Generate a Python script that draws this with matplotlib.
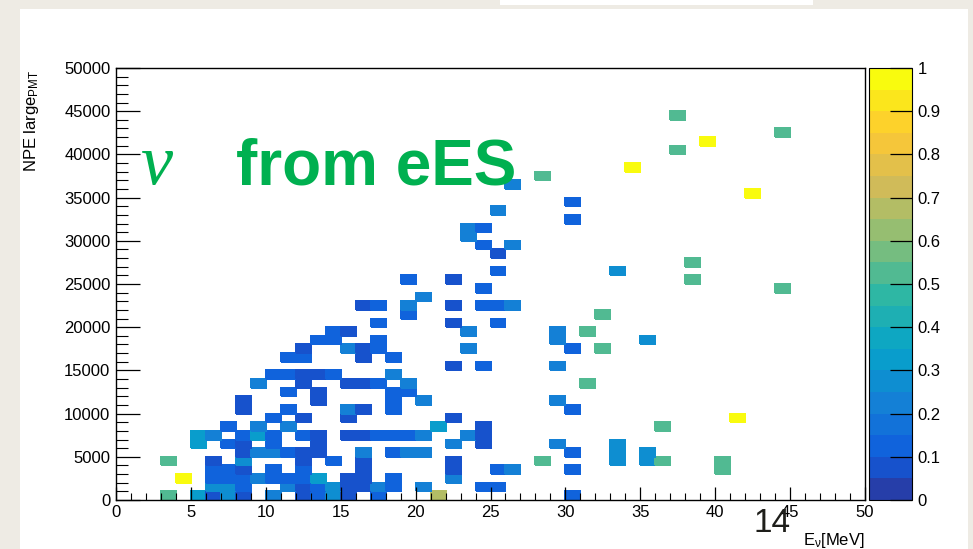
import numpy as np
import matplotlib
matplotlib.use('Agg')
import matplotlib.pyplot as plt
from matplotlib.colors import ListedColormap, BoundaryNorm
from matplotlib.patches import Rectangle
from matplotlib.ticker import MultipleLocator, FuncFormatter
from matplotlib.cm import ScalarMappable

plt.rcParams['font.family'] = ['Liberation Sans', 'DejaVu Sans']
plt.rcParams['mathtext.fontset'] = 'custom'
plt.rcParams['mathtext.rm'] = 'Liberation Sans'
plt.rcParams['mathtext.default'] = 'regular'

# ---------------- data (bin low edges: E in MeV, NPE in units of 1000) ----------------
cell_E = [
    3, 5, 6, 7, 8, 10, 12, 13, 14, 15, 17, 21, 30,            # NPE bin 0
    6, 7, 8, 11, 12, 13, 14, 15, 16, 17, 18, 20, 24, 25,      # 1
    4, 6, 7, 8, 9, 10, 11, 12, 13, 15, 16, 18, 22,            # 2
    6, 7, 8, 10, 12, 16, 22, 25, 26, 30, 40,                  # 3
    3, 6, 8, 12, 14, 16, 22, 28, 33, 35, 36, 40,              # 4
    8, 9, 10, 11, 12, 13, 16, 18, 19, 20, 30, 33, 35,         # 5
    5, 7, 8, 10, 13, 22, 24, 29, 33,                          # 6
    5, 6, 8, 9, 10, 12, 13, 15, 16, 17, 18, 19, 20, 23, 24,   # 7
    7, 9, 11, 21, 24, 36,                                     # 8
    10, 12, 15, 22, 41,                                       # 9
    8, 11, 15, 16, 18, 30,                                    # 10
    8, 13, 18, 20, 29,                                        # 11
    11, 13, 18, 19,                                           # 12
    9, 12, 15, 16, 17, 19, 31,                                # 13
    10, 11, 12, 13, 14, 18,                                   # 14
    22, 24, 29,                                               # 15
    11, 12, 16, 18,                                           # 16
    12, 15, 16, 17, 23, 30, 32,                               # 17
    13, 14, 17, 29, 35,                                       # 18
    14, 15, 23, 29, 31,                                       # 19
    17, 22, 25,                                               # 20
    19, 32,                                                   # 21
    16, 17, 19, 22, 24, 25, 26,                               # 22
    20,                                                       # 23
    24, 44,                                                   # 24
    19, 22, 38,                                               # 25
    25, 33,                                                   # 26
    38,                                                       # 27
    25,                                                       # 28
    24, 26,                                                   # 29
    23,                                                       # 30
    23, 24,                                                   # 31
    30,                                                       # 32
    25,                                                       # 33
    30,                                                       # 34
    42,                                                       # 35
    26,                                                       # 36
    28,                                                       # 37
    34,                                                       # 38
    37,                                                       # 40
    39,                                                       # 41
    44,                                                       # 42
    37,                                                       # 44
]
cell_NPE_k = [
    0, 0, 0, 0, 0, 0, 0, 0, 0, 0, 0, 0, 0,
    1, 1, 1, 1, 1, 1, 1, 1, 1, 1, 1, 1, 1, 1,
    2, 2, 2, 2, 2, 2, 2, 2, 2, 2, 2, 2, 2,
    3, 3, 3, 3, 3, 3, 3, 3, 3, 3, 3,
    4, 4, 4, 4, 4, 4, 4, 4, 4, 4, 4, 4,
    5, 5, 5, 5, 5, 5, 5, 5, 5, 5, 5, 5, 5,
    6, 6, 6, 6, 6, 6, 6, 6, 6,
    7, 7, 7, 7, 7, 7, 7, 7, 7, 7, 7, 7, 7, 7, 7,
    8, 8, 8, 8, 8, 8,
    9, 9, 9, 9, 9,
    10, 10, 10, 10, 10, 10,
    11, 11, 11, 11, 11,
    12, 12, 12, 12,
    13, 13, 13, 13, 13, 13, 13,
    14, 14, 14, 14, 14, 14,
    15, 15, 15,
    16, 16, 16, 16,
    17, 17, 17, 17, 17, 17, 17,
    18, 18, 18, 18, 18,
    19, 19, 19, 19, 19,
    20, 20, 20,
    21, 21,
    22, 22, 22, 22, 22, 22, 22,
    23,
    24, 24,
    25, 25, 25,
    26, 26,
    27,
    28,
    29, 29,
    30,
    31, 31,
    32,
    33,
    34,
    35,
    36,
    37,
    38,
    40,
    41,
    42,
    44,
]
cell_code = list(
    "GQDCDLDBCDBOB"
    "CCBLDBCDDLBLBB"
    "YBBBLBBBQDDBL"
    "BBDBBDDBLBG"
    "GDCDBDDGCCGG"
    "DLLBDDLBLLBCC"
    "QBDBDLDLC"
    "QLBQBBDDDBBBLLD"
    "BLLQDG"
    "BDDDY"
    "DBLDBB"
    "DDBLL"
    "BDBB"
    "LDDDBLG"
    "BBDDBL"
    "DBL"
    "BBDB"
    "DLDBLBG"
    "BBBLC"
    "BDLLG"
    "BDB"
    "BG"
    "DBLDBBL"
    "L"
    "BG"
    "BDG"
    "BC"
    "G"
    "D"
    "BL"
    "L"
    "LB"
    "B"
    "L"
    "B"
    "Y"
    "L"
    "G"
    "Y"
    "G"
    "Y"
    "G"
    "G"
)
code_value = {'D': 0.07, 'B': 0.12, 'L': 0.22, 'C': 0.27, 'Q': 0.32,
              'G': 0.52, 'O': 0.67, 'Y': 0.98}

x_ticks = [0, 5, 10, 15, 20, 25, 30, 35, 40, 45, 50]
y_ticks = [0, 5000, 10000, 15000, 20000, 25000, 30000, 35000, 40000, 45000, 50000]
z_ticks = [0, 0.1, 0.2, 0.3, 0.4, 0.5, 0.6, 0.7, 0.8, 0.9, 1]

# ---------------- ROOT kBird palette, 20 contours ----------------
stops = [0.0, 0.125, 0.25, 0.375, 0.5, 0.625, 0.75, 0.875, 1.0]
red = [0.2082, 0.0592, 0.0780, 0.0232, 0.1802, 0.5301, 0.8186, 0.9956, 0.9764]
green = [0.1664, 0.3599, 0.5041, 0.6419, 0.7178, 0.7492, 0.7328, 0.7862, 0.9832]
blue = [0.5293, 0.8684, 0.8385, 0.7914, 0.6425, 0.4662, 0.3499, 0.1968, 0.0539]
ncont = 20
fr = (np.arange(ncont) + 0.99) / ncont
cols = np.stack([np.interp(fr, stops, red), np.interp(fr, stops, green),
                 np.interp(fr, stops, blue)], axis=1)
cmap = ListedColormap(cols)
levels = np.linspace(0, 1, ncont + 1)
norm = BoundaryNorm(levels, ncont)

# ---------------- figure / slide background ----------------
W, H = 973, 549
fig = plt.figure(figsize=(W / 100, H / 100), dpi=100, facecolor='#eeebe4')


def fx(px):
    return px / W


def fy(py):
    return 1 - py / H


fig.patches.append(Rectangle((fx(20), 0), fx(968) - fx(20), fy(9), transform=fig.transFigure,
                             facecolor='white', edgecolor='none', zorder=-5))
fig.patches.append(Rectangle((fx(500), fy(5)), fx(813) - fx(500), 5 / H, transform=fig.transFigure,
                             facecolor='white', edgecolor='none', zorder=-5))

ax = fig.add_axes([fx(116), fy(500), fx(865) - fx(116), (500 - 68) / H])
ax.set_facecolor('white')
ax.set_zorder(2)

xedges = np.arange(0, 51, 1)
yedges = np.arange(0, 50001, 1000)
E_vals = np.array(cell_E, dtype=float) + 0.5
N_vals = np.array(cell_NPE_k, dtype=float) * 1000 + 500
w_vals = np.array([code_value[c] for c in cell_code])
Hh, _, _ = np.histogram2d(E_vals, N_vals, bins=[xedges, yedges], weights=w_vals)
Hm = np.ma.masked_where(Hh.T == 0, Hh.T)
ax.pcolormesh(xedges, yedges, Hm, cmap=cmap, norm=norm, edgecolors='face', linewidth=0.2)

ax.set_xlim(0, 50)
ax.set_ylim(0, 50000)
ax.set_xticks(x_ticks)
ax.set_yticks(y_ticks)
ax.xaxis.set_minor_locator(MultipleLocator(1))
ax.yaxis.set_minor_locator(MultipleLocator(1000))
ax.xaxis.set_major_formatter(FuncFormatter(lambda v, p: f'{v:g}'))
ax.yaxis.set_major_formatter(FuncFormatter(lambda v, p: f'{v:g}'))
ax.tick_params(axis='x', which='major', direction='in', length=9.4, width=0.9,
               top=False, labelsize=12, pad=3.5)
ax.tick_params(axis='x', which='minor', direction='in', length=5, width=0.8, top=False)
ax.tick_params(axis='y', which='major', direction='in', length=17, width=0.9,
               right=False, labelsize=12, pad=4)
ax.tick_params(axis='y', which='minor', direction='in', length=8.6, width=0.8, right=False)
for s in ax.spines.values():
    s.set_linewidth(1.0)
    s.set_color('black')

# ---------------- colour bar ----------------
cax = fig.add_axes([fx(869), fy(500), fx(912) - fx(869), (500 - 68) / H])
cax.set_zorder(2)
sm = ScalarMappable(norm=norm, cmap=cmap)
cb = fig.colorbar(sm, cax=cax, ticks=z_ticks)
cb.minorticks_off()
cb.outline.set_linewidth(0.8)
cax.yaxis.set_ticks_position('right')
cax.yaxis.set_major_formatter(FuncFormatter(lambda v, p: f'{v:g}'))
cax.tick_params(axis='y', direction='in', length=16, width=0.9, labelsize=12, pad=4)

# ---------------- texts ----------------
fig.text(fx(865), fy(540), r'E$_\mathregular{\nu}$[MeV]', ha='right', va='center', fontsize=12,
         zorder=5)
fig.text(fx(36.5), fy(70), r'NPE large$_\mathregular{PMT}$', rotation=90, rotation_mode='anchor',
         ha='right', va='baseline', fontsize=12, zorder=5)

fig.text(fx(140), fy(184), 'ν', fontsize=52, family=['Liberation Serif', 'DejaVu Serif'],
         style='italic', color='#00b050', ha='left', va='baseline', zorder=5)
fig.text(fx(236), fy(184), 'from eES', fontsize=46, weight='bold', color='#00b050',
         ha='left', va='baseline', zorder=5)
fig.text(fx(754), fy(532), '14', fontsize=24, color='#1e1e1a', ha='left', va='baseline', zorder=5)

fig.savefig('out.png', dpi=100, facecolor=fig.get_facecolor())
